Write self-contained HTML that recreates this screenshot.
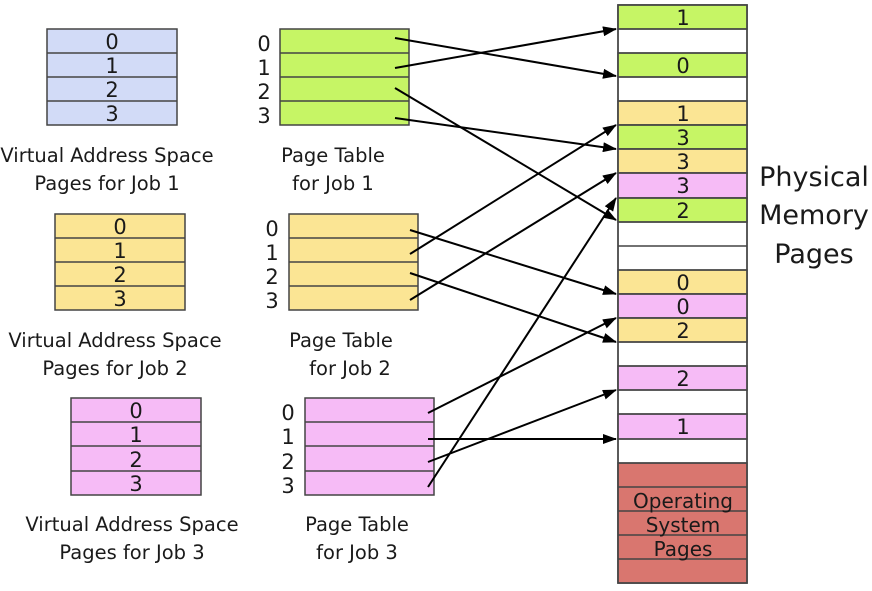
<!DOCTYPE html>
<html><head><meta charset="utf-8"><style>
body{margin:0;background:#fff;width:872px;height:591px;overflow:hidden}
svg{display:block}
text{font-family:"DejaVu Sans","Liberation Sans",sans-serif;fill:#1a1a1a}
</style></head><body>
<svg width="872" height="591" viewBox="0 0 872 591" xmlns="http://www.w3.org/2000/svg">
<defs><marker id="a" markerWidth="14" markerHeight="10" refX="13" refY="5" orient="auto" markerUnits="userSpaceOnUse" viewBox="0 0 14 10"><path d="M0,0L14,5L0,10z" fill="#000"/></marker></defs>
<g stroke="#444" stroke-width="1.5">
<rect x="47" y="29" width="130" height="96" fill="#d2dbf7"/>
<line x1="47" y1="53" x2="177" y2="53"/><line x1="47" y1="77" x2="177" y2="77"/><line x1="47" y1="101" x2="177" y2="101"/>
<rect x="55" y="214" width="130" height="96" fill="#fbe594"/>
<line x1="55" y1="238" x2="185" y2="238"/><line x1="55" y1="262" x2="185" y2="262"/><line x1="55" y1="286" x2="185" y2="286"/>
<rect x="71" y="398" width="130" height="97" fill="#f6bbf6"/>
<line x1="71" y1="422" x2="201" y2="422"/><line x1="71" y1="446" x2="201" y2="446"/><line x1="71" y1="471" x2="201" y2="471"/>
<rect x="280" y="29" width="129" height="96" fill="#c6f565"/>
<line x1="280" y1="53" x2="409" y2="53"/><line x1="280" y1="77" x2="409" y2="77"/><line x1="280" y1="101" x2="409" y2="101"/>
<rect x="289" y="214" width="129" height="96" fill="#fbe594"/>
<line x1="289" y1="238" x2="418" y2="238"/><line x1="289" y1="262" x2="418" y2="262"/><line x1="289" y1="286" x2="418" y2="286"/>
<rect x="305" y="398" width="129" height="97" fill="#f6bbf6"/>
<line x1="305" y1="422" x2="434" y2="422"/><line x1="305" y1="446" x2="434" y2="446"/><line x1="305" y1="471" x2="434" y2="471"/>
<rect x="618" y="5" width="129" height="578" fill="#fff"/>
<rect x="618" y="5" width="129" height="24" fill="#c6f565"/>
<rect x="618" y="53" width="129" height="24" fill="#c6f565"/>
<rect x="618" y="101" width="129" height="24" fill="#fbe594"/>
<rect x="618" y="125" width="129" height="24" fill="#c6f565"/>
<rect x="618" y="149" width="129" height="24" fill="#fbe594"/>
<rect x="618" y="173" width="129" height="25" fill="#f6bbf6"/>
<rect x="618" y="198" width="129" height="24" fill="#c6f565"/>
<rect x="618" y="270" width="129" height="24" fill="#fbe594"/>
<rect x="618" y="294" width="129" height="24" fill="#f6bbf6"/>
<rect x="618" y="318" width="129" height="24" fill="#fbe594"/>
<rect x="618" y="366" width="129" height="24" fill="#f6bbf6"/>
<rect x="618" y="414" width="129" height="25" fill="#f6bbf6"/>
<rect x="618" y="463" width="129" height="120" fill="#d9766f"/>
<line x1="618" y1="29" x2="747" y2="29"/><line x1="618" y1="53" x2="747" y2="53"/><line x1="618" y1="77" x2="747" y2="77"/><line x1="618" y1="101" x2="747" y2="101"/><line x1="618" y1="125" x2="747" y2="125"/><line x1="618" y1="149" x2="747" y2="149"/><line x1="618" y1="173" x2="747" y2="173"/><line x1="618" y1="198" x2="747" y2="198"/><line x1="618" y1="222" x2="747" y2="222"/><line x1="618" y1="246" x2="747" y2="246"/><line x1="618" y1="270" x2="747" y2="270"/><line x1="618" y1="294" x2="747" y2="294"/><line x1="618" y1="318" x2="747" y2="318"/><line x1="618" y1="342" x2="747" y2="342"/><line x1="618" y1="366" x2="747" y2="366"/><line x1="618" y1="390" x2="747" y2="390"/><line x1="618" y1="414" x2="747" y2="414"/><line x1="618" y1="439" x2="747" y2="439"/><line x1="618" y1="463" x2="747" y2="463"/><line x1="618" y1="487" x2="747" y2="487"/><line x1="618" y1="511" x2="747" y2="511"/><line x1="618" y1="535" x2="747" y2="535"/><line x1="618" y1="559" x2="747" y2="559"/>
<rect x="618" y="5" width="129" height="578" fill="none"/>
</g>
<g stroke="#000" stroke-width="2" marker-end="url(#a)">
<line x1="395" y1="38" x2="616" y2="76"/>
<line x1="395" y1="68" x2="616" y2="29"/>
<line x1="395" y1="88" x2="616" y2="220"/>
<line x1="395" y1="118" x2="616" y2="149"/>
<line x1="410" y1="230" x2="616" y2="294"/>
<line x1="410" y1="254" x2="616" y2="125"/>
<line x1="410" y1="273" x2="616" y2="342"/>
<line x1="410" y1="300" x2="616" y2="173"/>
<line x1="428" y1="413" x2="616" y2="318"/>
<line x1="428" y1="439" x2="616" y2="439"/>
<line x1="428" y1="462" x2="616" y2="390"/>
<line x1="428" y1="487" x2="616" y2="198"/>
</g>
<g font-size="21" text-anchor="middle">
<text x="112" y="49">0</text><text x="112" y="73">1</text><text x="112" y="97">2</text><text x="112" y="121">3</text>
<text x="120" y="234">0</text><text x="120" y="258">1</text><text x="120" y="282">2</text><text x="120" y="306">3</text>
<text x="136" y="418">0</text><text x="136" y="442">1</text><text x="136" y="467">2</text><text x="136" y="491">3</text>
<text x="264" y="51">0</text><text x="264" y="75">1</text><text x="264" y="99">2</text><text x="264" y="123">3</text>
<text x="272" y="236">0</text><text x="272" y="260">1</text><text x="272" y="284">2</text><text x="272" y="308">3</text>
<text x="288" y="420">0</text><text x="288" y="444">1</text><text x="288" y="469">2</text><text x="288" y="493">3</text>
<text x="683" y="25">1</text><text x="683" y="73">0</text><text x="683" y="121">1</text><text x="683" y="145">3</text><text x="683" y="169">3</text><text x="683" y="193">3</text><text x="683" y="218">2</text><text x="683" y="290">0</text><text x="683" y="314">0</text><text x="683" y="338">2</text><text x="683" y="386">2</text><text x="683" y="434">1</text>
</g>
<g font-size="20" text-anchor="middle">
<text x="683" y="508">Operating</text><text x="683" y="532">System</text><text x="683" y="556">Pages</text>
</g>
<g font-size="19.5" text-anchor="middle">
<text x="107" y="162">Virtual Address Space</text><text x="107" y="190">Pages for Job 1</text>
<text x="333" y="162">Page Table</text><text x="333" y="190">for Job 1</text>
<text x="115" y="347">Virtual Address Space</text><text x="115" y="375">Pages for Job 2</text>
<text x="341" y="347">Page Table</text><text x="350" y="375">for Job 2</text>
<text x="132" y="531">Virtual Address Space</text><text x="132" y="559">Pages for Job 3</text>
<text x="357" y="531">Page Table</text><text x="357" y="559">for Job 3</text>
</g>
<g font-size="27" text-anchor="middle">
<text x="814" y="186">Physical</text><text x="814" y="224">Memory</text><text x="814" y="263">Pages</text>
</g>
</svg>
</body></html>
